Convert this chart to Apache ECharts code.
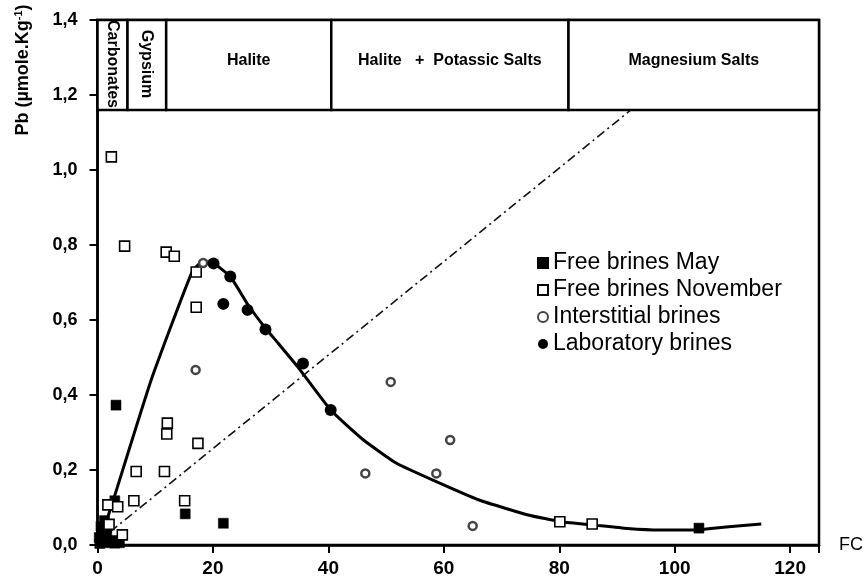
<!DOCTYPE html>
<html>
<head>
<meta charset="utf-8">
<script src="https://cdn.jsdelivr.net/npm/echarts@6/dist/echarts.min.js"></script>
<style>
  html, body { margin: 0; padding: 0; background: #fff; }
  #chart { width: 866px; height: 582px; }
</style>
</head>
<body>
<div id="chart"></div>
<script>
// Pb content of brines versus concentration factor (FC)
const freeBrinesMay = [
  [3.2, 0.373], [3.0, 0.118], [15.2, 0.083], [21.8, 0.058], [104.2, 0.045],
  [0.3, 0.02], [0.6, 0.05], [1.0, 0.035], [1.2, 0.065], [0.8, 0.01],
  [1.6, 0.022], [2.0, 0.006], [2.5, 0.012], [3.0, 0.005], [3.8, 0.006],
  [1.5, 0.045], [0.4, 0.004]
];
const freeBrinesNovember = [
  [2.4, 1.035], [4.7, 0.797], [11.9, 0.781], [13.3, 0.77], [17.1, 0.728],
  [17.1, 0.634], [12.1, 0.325], [12.0, 0.296], [17.4, 0.271], [6.7, 0.196],
  [11.6, 0.196], [6.3, 0.118], [15.1, 0.118], [1.8, 0.107], [3.5, 0.102],
  [4.3, 0.027], [2.0, 0.055], [80.1, 0.062], [85.7, 0.056]
];
const interstitialBrines = [
  [17.0, 0.467], [18.3, 0.752], [50.8, 0.435], [61.1, 0.28],
  [46.4, 0.191], [58.7, 0.191], [65.0, 0.051]
];
const laboratoryBrines = [
  [20.1, 0.751], [23.0, 0.716], [21.8, 0.643], [26.0, 0.627],
  [29.1, 0.575], [35.6, 0.484], [40.4, 0.36]
];
// evolution curve of Pb during evaporation
const trendCurve = [
  [0.3, 0.005], [2.7, 0.118], [9.3, 0.44], [16.3, 0.725], [18.2, 0.757],
  [20.1, 0.751], [23.0, 0.716], [26.1, 0.64], [29.0, 0.58], [31.3, 0.538],
  [34.7, 0.475], [40.4, 0.36], [46.1, 0.28], [51.8, 0.218], [58.7, 0.169],
  [66.1, 0.12], [74.6, 0.08], [80.4, 0.062], [86.1, 0.053], [91.8, 0.044],
  [97.5, 0.04], [103.0, 0.04], [108.9, 0.048], [115.0, 0.056]
];
// conservative (dilution) line
const dilutionLine = [[2.2, 0.035], [92.4, 1.16]];

// precipitation zones along FC
const zoneEdges = [0, 5.2, 11.9, 40.5, 81.6, 125];
const zoneNames = ['Carbonates', 'Gypsium', 'Halite', 'Halite   +  Potassic Salts', 'Magnesium Salts'];
const zoneTop = 1.4;
const zoneBottom = 1.16;

const seriesNames = ['Free brines May', 'Free brines November', 'Interstitial brines', 'Laboratory brines'];

const FONT = '"Liberation Sans", Arial, Helvetica, sans-serif';

const chart = echarts.init(document.getElementById('chart'), null, { renderer: 'canvas' });

const zoneData = zoneNames.map((n, i) => [zoneEdges[i], zoneEdges[i + 1], i]);

const option = {
  animation: false,
  backgroundColor: '#fff',
  grid: {
    left: 97.5, right: 40, top: 20, bottom: 37,
    show: true, borderColor: '#000', borderWidth: 2.5, backgroundColor: 'transparent'
  },
  legend: {
    orient: 'vertical',
    left: 532, top: 245,
    itemWidth: 10, itemHeight: 10, itemGap: 1,
    data: seriesNames,
    textStyle: { fontFamily: FONT, fontSize: 23, color: '#000', lineHeight: 26 },
    selectedMode: false
  },
  xAxis: {
    type: 'value', min: 0, max: 125, interval: 20,
    name: 'FC', nameLocation: 'end', nameGap: 20,
    nameTextStyle: { fontFamily: FONT, fontSize: 18, color: '#000', verticalAlign: 'middle', padding: [0, 0, 6, 0] },
    axisLine: { show: true, lineStyle: { color: '#000', width: 2.5 } },
    axisTick: { show: true, length: 8, lineStyle: { color: '#000', width: 2 } },
    axisLabel: {
      fontFamily: FONT, fontSize: 19, fontWeight: 'bold', color: '#000', margin: 14,
      formatter: v => (v > 120 ? '' : String(v))
    },
    splitLine: { show: false }
  },
  yAxis: {
    type: 'value', min: 0, max: 1.4, interval: 0.2,
    axisLine: { show: true, lineStyle: { color: '#000', width: 2.5 } },
    axisTick: { show: true, length: 8, lineStyle: { color: '#000', width: 2 } },
    axisLabel: {
      fontFamily: FONT, fontSize: 18, fontWeight: 'bold', color: '#000', margin: 20,
      formatter: v => v.toFixed(1).replace('.', ',')
    },
    splitLine: { show: false }
  },
  graphic: [{
    type: 'text',
    x: 23, y: 70,
    rotation: Math.PI / 2,
    style: {
      text: '{a|Pb (µmole.Kg}{s|-1}{a|)}',
      align: 'center', verticalAlign: 'middle',
      rich: {
        a: { fontFamily: FONT, fontSize: 18, fontWeight: 'bold', fill: '#000' },
        s: { fontFamily: FONT, fontSize: 11, fontWeight: 'bold', fill: '#000', padding: [0, 0, 9, 0] }
      }
    }
  }],
  series: [
    {
      name: 'trend', type: 'line', data: trendCurve, smooth: 0.15,
      showSymbol: false, silent: true, z: 2,
      lineStyle: { color: '#000', width: 3 }
    },
    {
      name: 'dilution', type: 'line', data: dilutionLine,
      showSymbol: false, silent: true, z: 2,
      lineStyle: { color: '#111', width: 1.6, type: [9, 4, 2, 4] }
    },
    {
      name: seriesNames[0], type: 'scatter', data: freeBrinesMay, z: 4,
      symbol: 'rect', symbolSize: 10,
      itemStyle: { color: '#000', borderColor: '#000', borderWidth: 0.5, opacity: 1 }
    },
    {
      name: seriesNames[1], type: 'scatter', data: freeBrinesNovember, z: 4,
      symbol: 'rect', symbolSize: 10,
      itemStyle: { color: '#fff', borderColor: '#000', borderWidth: 1.6, opacity: 1 }
    },
    {
      name: seriesNames[2], type: 'scatter', data: interstitialBrines, z: 4,
      symbol: 'circle', symbolSize: 8,
      itemStyle: { color: '#fff', borderColor: '#444', borderWidth: 2.5, opacity: 1 }
    },
    {
      name: seriesNames[3], type: 'scatter', data: laboratoryBrines, z: 4,
      symbol: 'circle', symbolSize: 12,
      itemStyle: { color: '#000', opacity: 1 }
    },
    {
      name: 'zones', type: 'custom', data: zoneData, z: 10, silent: true, clip: false,
      encode: { x: [0, 1] },
      renderItem: (params, api) => {
        const i = params.dataIndex;
        const p0 = api.coord([api.value(0), zoneTop]);
        const p1 = api.coord([api.value(1), zoneBottom]);
        const cx = (p0[0] + p1[0]) / 2;
        const cy = (p0[1] + p1[1]) / 2;
        const vertical = i < 2;
        return {
          type: 'group',
          children: [
            {
              type: 'rect',
              shape: { x: p0[0], y: p0[1], width: p1[0] - p0[0], height: p1[1] - p0[1] },
              style: { fill: '#fff', stroke: '#000', lineWidth: 2.5 }
            },
            {
              type: 'text',
              x: cx, y: vertical ? cy - 1 : cy - 4,
              rotation: vertical ? -Math.PI / 2 : 0,
              style: {
                text: zoneNames[i], fill: '#000',
                font: 'bold 16px ' + FONT,
                align: 'center', verticalAlign: 'middle'
              }
            }
          ]
        };
      }
    }
  ]
};

chart.setOption(option);
</script>
</body>
</html>
